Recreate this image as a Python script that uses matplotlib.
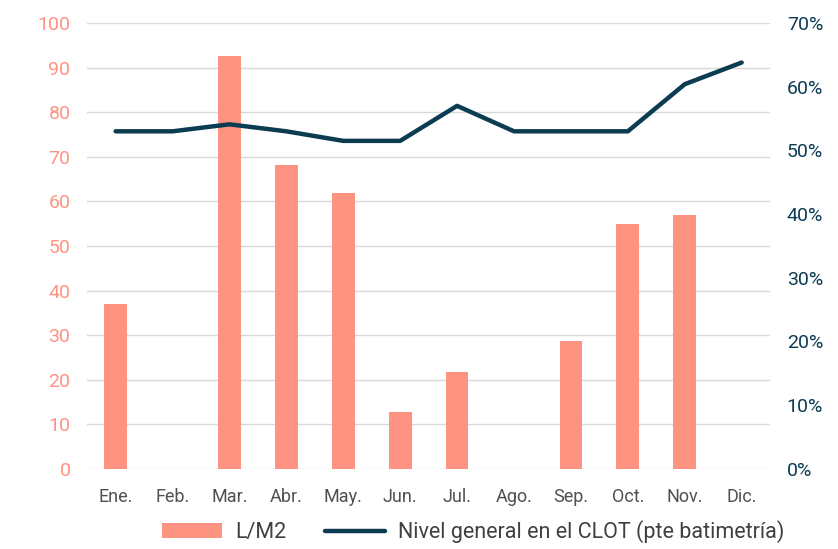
import matplotlib.pyplot as plt
import numpy as np

# Datos mensuales
meses = ['Ene.', 'Feb.', 'Mar.', 'Abr.', 'May.', 'Jun.', 'Jul.', 'Ago.',
         'Sep.', 'Oct.', 'Nov.', 'Dic.']
lluvia = [37, 0, 92.7, 68.2, 61.8, 12.7, 21.8, 0, 28.7, 54.9, 56.9, 0]
nivel = [0.53, 0.53, 0.541, 0.53, 0.515, 0.515, 0.57, 0.53, 0.53, 0.53, 0.604, 0.638]

salmon = '#FF9382'
azul = '#0B3C52'

plt.rcParams['font.family'] = ['Roboto', 'DejaVu Sans']

fig = plt.figure(figsize=(8.38, 5.49), dpi=100)
ax = fig.add_axes([0.104, 0.146, 0.815, 0.812])
x = np.arange(len(meses))

ax.bar(x, lluvia, width=0.4, color=salmon, label='L/M2', zorder=2)
ax.set_ylim(0, 100)
ax.set_yticks(range(0, 101, 10))
ax.set_xlim(-0.5, 11.5)
ax.set_xticks(x)
ax.set_xticklabels(meses, color='#505050', fontsize=13)
ax.tick_params(axis='y', colors=salmon, labelsize=14, length=0, pad=12)
ax.tick_params(axis='x', length=0, pad=14)
ax.grid(axis='y', color='#D9D9D9', lw=1, zorder=0)
for s in ax.spines.values():
    s.set_visible(False)

ax2 = ax.twinx()
ax2.plot(x, nivel, color=azul, lw=3.2, solid_capstyle='round',
         label='Nivel general en el CLOT (pte batimetría)')
ax2.set_ylim(0, 0.7)
ax2.set_yticks(np.arange(0, 0.71, 0.1))
ax2.set_yticklabels([f'{int(round(v*100))}%' for v in np.arange(0, 0.71, 0.1)])
ax2.tick_params(axis='y', colors=azul, labelsize=14, length=0, pad=12)
for s in ax2.spines.values():
    s.set_visible(False)

h1, l1 = ax.get_legend_handles_labels()
h2, l2 = ax2.get_legend_handles_labels()
fig.legend(h1 + h2, l1 + l2, loc='lower center', bbox_to_anchor=(0.565, -0.025),
           ncol=2, frameon=False, fontsize=15.5, handlelength=2.8,
           labelcolor='#404040', columnspacing=1.8, handletextpad=0.6)

fig.savefig('out.png', dpi=100)
